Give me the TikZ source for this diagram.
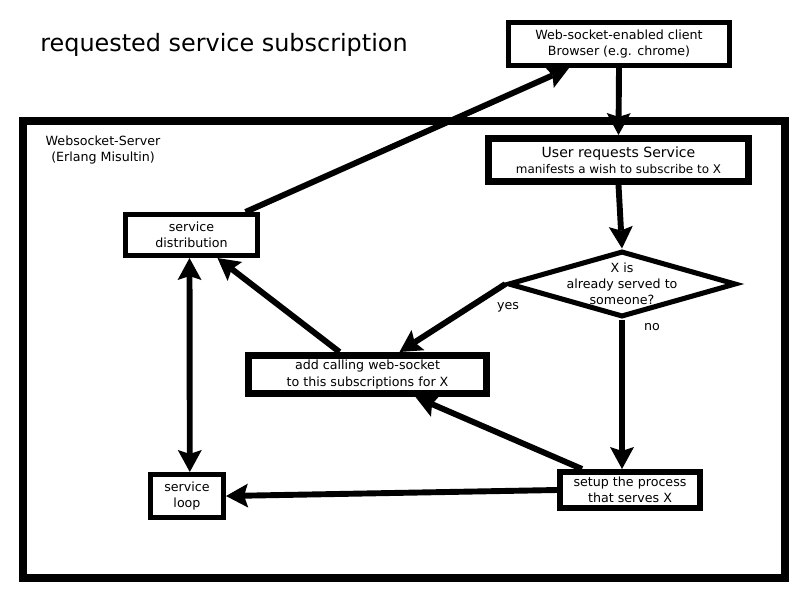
\documentclass[tikz,border=0pt]{standalone}
\usepackage{fontspec}
\setmainfont{DejaVu Sans}
\usetikzlibrary{positioning,shapes.geometric,arrows.meta,calc}

\begin{document}
\begin{tikzpicture}[x=0.025cm, y=-0.025cm,
    >={Stealth[length=5.5mm, width=6mm, inset=1mm, line width=0pt]},
    box/.style={draw, line width=3.6pt, fill=white, align=center, inner sep=0pt,
        font=\fontsize{9}{11.5}\selectfont},
    flow/.style={line width=4.2pt, ->},
    lbl/.style={font=\fontsize{9}{11.5}\selectfont, align=center}]
    \useasboundingbox (0,0) rectangle (800,600);

    % Title
    \node[font=\fontsize{17}{20}\selectfont] (title) at (224,45) {requested service subscription};

    % Server frame
    \draw[line width=5.7pt] (23,121) rectangle (785,578);
    \node[lbl] (server) at (103,150) {Websocket-Server\\(Erlang Misultin)};

    % Boxes
    \node[box, minimum width=5.525cm, minimum height=1.075cm] (browser) at (619,44)
        {Web-socket-enabled client\\Browser (e.g. chrome)};
    \node[box, line width=5pt, minimum width=6.5cm, minimum height=1.075cm] (user) at (618.5,160)
        {{\fontsize{10}{12}\selectfont User requests Service}\\{\fontsize{8.5}{11}\selectfont manifests a wish to subscribe to X}};
    \node[box, minimum width=3.3cm, minimum height=1.025cm] (sdist) at (191.5,235)
        {service\\distribution};
    \node[box, line width=5pt, minimum width=5.95cm, minimum height=0.95cm] (add) at (367.5,374.5)
        {add calling web-socket\\to this subscriptions for X};
    \node[box, line width=4.3pt, minimum width=3.5cm, minimum height=0.9cm] (setup) at (630,490)
        {setup the process\\that serves X};
    \node[box, minimum width=1.825cm, minimum height=1.075cm] (loop) at (187,496)
        {service\\loop};

    % Decision
    \node[diamond, draw, line width=3.6pt, inner sep=0pt, minimum width=5.7cm, minimum height=1.65cm] (served) at (622,284) {};
    \node[lbl] (question) at (served.center) {X is\\already served to\\someone?};
    \node[lbl] (yes) at (508,307) {yes};
    \node[lbl] (no) at (652,327) {no};

    % Connectors
    \draw[flow] ([xshift=1.35cm]sdist.north) -- ([xshift=-1.25cm]browser.south);
    \draw[flow] (browser.south) -- (user.north);
    \draw[flow] (user.south) -- (served.north);
    \draw[flow] (served.west) -- ([xshift=0.8cm]add.north);
    \draw[flow] (served.south) -- (served.south |- setup.north);
    \draw[flow] ([xshift=-0.7cm]add.north) -- ([xshift=0.65cm]sdist.south);
    \draw[flow] ([xshift=-1.2cm]setup.north) -- ([xshift=1.2cm]add.south);
    \draw[flow] (setup.west) -- (loop.east);
    \draw[flow, <->] ([xshift=-0.05cm]sdist.south) -- ([xshift=0.07cm]loop.north);
\end{tikzpicture}
\end{document}
